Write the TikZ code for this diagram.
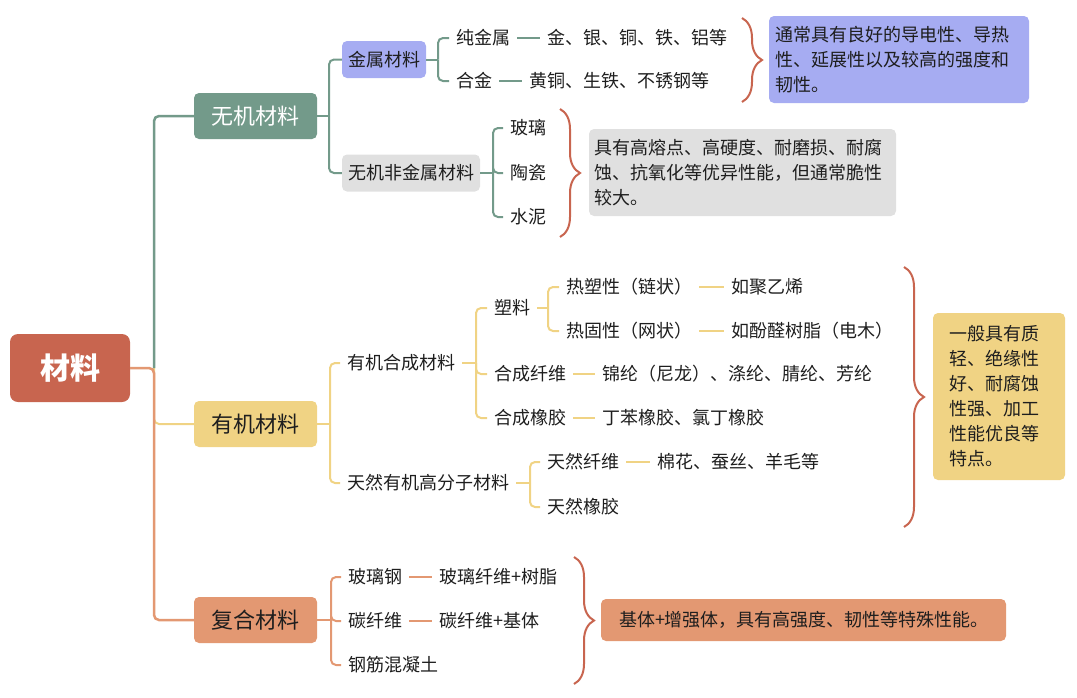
\documentclass[tikz,border=0pt]{standalone}
\usepackage{fontspec}
\setmainfont{Noto Sans CJK SC}
\usetikzlibrary{decorations.pathreplacing}
\definecolor{rootc}{HTML}{C8654F}
\definecolor{greenc}{HTML}{739A8A}
\definecolor{lavc}{HTML}{A6ACF2}
\definecolor{grayc}{HTML}{E0E0E0}
\definecolor{yelc}{HTML}{F0D384}
\definecolor{salc}{HTML}{E39872}
\definecolor{inkc}{HTML}{1E1E1E}
\begin{document}
\begin{tikzpicture}[x=1pt,y=-1pt,
	rootbox/.style={fill=rootc,rounded corners=8pt,minimum width=120pt,minimum height=68pt,text=white,font=\fontsize{30}{34}\selectfont\bfseries},
	topicbox/.style={rounded corners=5pt,minimum width=123pt,minimum height=46pt,inner sep=0pt,font=\fontsize{22}{26}\selectfont},
	subbox/.style={rounded corners=5pt,minimum height=37pt,inner xsep=6pt,text=inkc,text height=16pt,text depth=2.5pt,font=\fontsize{18}{22}\selectfont},
	leaf/.style={anchor=west,inner xsep=7pt,inner ysep=1pt,text=inkc,text height=16pt,text depth=2.5pt,font=\fontsize{18}{22}\selectfont},
	note/.style={rounded corners=5pt,align=left,text=inkc,font=\fontsize{18}{25}\selectfont},
	link/.style={line width=2pt,rounded corners=5pt},
	curly/.style={decorate,decoration={brace,amplitude=20pt},line width=2pt,rootc}]
	\useasboundingbox (0,0) rectangle (1077,697);
	% centre and main branches
	\node[rootbox] (cailiao) at (70,368) {材料};
	\node[topicbox,fill=greenc,text=white] (wuji) at (255.5,116) {无机材料};
	\node[topicbox,fill=yelc,text=inkc] (youji) at (255.5,424) {有机材料};
	\node[topicbox,fill=salc,text=inkc] (fuhe) at (255.5,620) {复合材料};
	\coordinate (f0) at (154,368);
	\draw[link,yelc] (f0) |- (youji.west);
	\draw[link,salc,line width=2.5pt] (cailiao.east) -- (f0) |- (fuhe.west);
	\draw[link,greenc,line width=2.5pt] (f0) |- (wuji.west);
	% inorganic
	\node[subbox,fill=lavc] (jinshu) at (384,59.5) {金属材料};
	\node[subbox,fill=grayc] (feijinshu) at (411,173) {无机非金属材料};
	\draw[link,greenc] (wuji.east) -- (329,116) coordinate (f1);
	\draw[link,greenc] (f1) |- (jinshu.west);
	\draw[link,greenc] (f1) |- (feijinshu.west);
	\node[leaf] (chun) at (449,38) {纯金属};
	\node[leaf] (hejin) at (449,81) {合金};
	\node[leaf] (jinyin) at (540,38) {金、银、铜、铁、铝等};
	\node[leaf] (huangtong) at (522,81) {黄铜、生铁、不锈钢等};
	\draw[link,greenc] (jinshu.east) -- (438,59.5) coordinate (f2);
	\draw[link,greenc] (f2) |- (chun.west);
	\draw[link,greenc] (f2) |- (hejin.west);
	\draw[link,greenc] (chun.east) -- (jinyin.west);
	\draw[link,greenc] (hejin.east) -- (huangtong.west);
	\draw[link,greenc] (feijinshu.east) -- (493,173) coordinate (f3);
	\foreach \n/\t/\y in {boli/玻璃/128,taoci/陶瓷/173,shuini/水泥/217}{
		\node[leaf] (\n) at (503,\y) {\t};
		\draw[link,greenc] (f3) |- (\n.west);
	}
	\draw[curly] (742,18) -- (742,102);
	\node[note,fill=lavc,minimum width=260pt,minimum height=87pt,inner xsep=6pt,text width=248pt] (note1) at (899,59.5)
		{通常具有良好的导电性、导热\\性、延展性以及较高的强度和\\韧性。};
	\draw[curly] (560,109) -- (560,237);
	\node[note,fill=grayc,minimum width=307pt,minimum height=87pt,inner xsep=5pt,text width=297pt] (note2) at (742.5,172.5)
		{具有高熔点、高硬度、耐磨损、耐腐\\蚀、抗氧化等优异性能，但通常脆性\\较大。};
	% organic
	\node[leaf] (hecheng) at (340,363) {有机合成材料};
	\node[leaf] (tianran) at (340,483) {天然有机高分子材料};
	\draw[link,yelc] (youji.east) -- (330,424) coordinate (f4);
	\draw[link,yelc] (f4) |- (hecheng.west);
	\draw[link,yelc] (f4) |- (tianran.west);
	\draw[link,yelc] (hecheng.east) -- (476,363) coordinate (f5);
	\foreach \n/\t/\y in {suliao/塑料/308,xianwei/合成纤维/374,xiangjiao/合成橡胶/418}{
		\node[leaf] (\n) at (487,\y) {\t};
		\draw[link,yelc] (f5) |- (\n.west);
	}
	\draw[link,yelc] (suliao.east) -- (548,308) coordinate (f6);
	\foreach \n/\t/\y in {resu/热塑性（链状）/287,regu/热固性（网状）/331}{
		\node[leaf] (\n) at (559,\y) {\t};
		\draw[link,yelc] (f6) |- (\n.west);
	}
	\node[leaf] (juyixi) at (724,287) {如聚乙烯};
	\node[leaf] (fenquan) at (724,331) {如酚醛树脂（电木）};
	\node[leaf] (jinlun) at (595,374) {锦纶（尼龙）、涤纶、腈纶、芳纶};
	\node[leaf] (dingben) at (595,418) {丁苯橡胶、氯丁橡胶};
	\draw[link,yelc] (resu.east) -- (juyixi.west);
	\draw[link,yelc] (regu.east) -- (fenquan.west);
	\draw[link,yelc] (xianwei.east) -- (jinlun.west);
	\draw[link,yelc] (xiangjiao.east) -- (dingben.west);
	\draw[link,yelc] (tianran.east) -- (530,483) coordinate (f7);
	\foreach \n/\t/\y in {tianxw/天然纤维/462,tianxj/天然橡胶/507}{
		\node[leaf] (\n) at (540,\y) {\t};
		\draw[link,yelc] (f7) |- (\n.west);
	}
	\node[leaf] (mianhua) at (650,462) {棉花、蚕丝、羊毛等};
	\draw[link,yelc] (tianxw.east) -- (mianhua.west);
	\draw[curly] (904,267) -- (904,527);
	\node[note,fill=yelc,minimum width=132pt,minimum height=167pt,inner xsep=16pt,text width=100pt] (note3) at (999,396.5)
		{一般具有质\\轻、绝缘性\\好、耐腐蚀\\性强、加工\\性能优良等\\特点。};
	% composite
	\draw[link,salc] (fuhe.east) -- (331,620) coordinate (f8);
	\foreach \n/\t/\y in {boligang/玻璃钢/577,tanxw/碳纤维/621,gangjin/钢筋混凝土/665}{
		\node[leaf] (\n) at (341,\y) {\t};
		\draw[link,salc] (f8) |- (\n.west);
	}
	\node[leaf] (shuzhi) at (432,577) {玻璃纤维+树脂};
	\node[leaf] (jiti) at (432,621) {碳纤维+基体};
	\draw[link,salc] (boligang.east) -- (shuzhi.west);
	\draw[link,salc] (tanxw.east) -- (jiti.west);
	\draw[curly] (574,557) -- (574,684);
	\node[note,fill=salc,minimum width=405pt,minimum height=42pt,inner xsep=18pt,text width=369pt] (note4) at (803.5,620)
		{基体+增强体，具有高强度、韧性等特殊性能。};
\end{tikzpicture}
\end{document}
